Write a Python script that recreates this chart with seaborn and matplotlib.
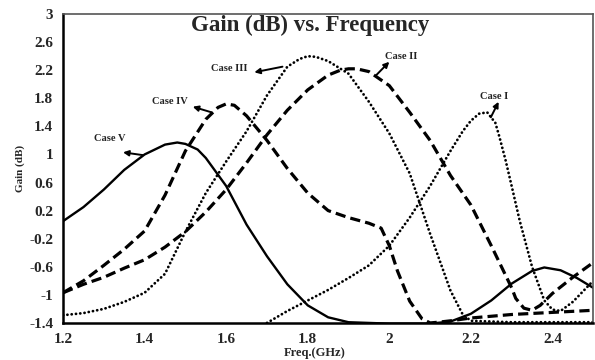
import matplotlib
matplotlib.use("Agg")
import matplotlib.pyplot as plt
import seaborn as sns

# ---- data ----
case1_f = [1.70, 1.75, 1.80, 1.85, 1.90, 1.95, 2.00, 2.05, 2.10, 2.15, 2.18, 2.20, 2.22, 2.24, 2.26, 2.27, 2.285, 2.30, 2.32, 2.35, 2.38, 2.40, 2.42, 2.45, 2.50]
case1_g = [-1.40, -1.23, -1.08, -0.93, -0.76, -0.58, -0.30, 0.10, 0.55, 1.05, 1.33, 1.48, 1.58, 1.60, 1.45, 1.25, 0.92, 0.55, 0.05, -0.60, -1.08, -1.21, -1.23, -1.10, -0.80]

case2_f = [1.20, 1.25, 1.30, 1.35, 1.40, 1.45, 1.50, 1.55, 1.60, 1.65, 1.70, 1.75, 1.80, 1.85, 1.88, 1.90, 1.92, 1.95, 2.00, 2.05, 2.10, 2.15, 2.20, 2.25, 2.30, 2.31, 2.33, 2.35, 2.37, 2.40, 2.45, 2.50]
case2_g = [-0.97, -0.85, -0.75, -0.62, -0.50, -0.32, -0.10, 0.18, 0.50, 0.88, 1.28, 1.63, 1.92, 2.13, 2.20, 2.22, 2.22, 2.18, 1.98, 1.60, 1.20, 0.70, 0.28, -0.30, -0.90, -1.05, -1.19, -1.22, -1.15, -0.98, -0.75, -0.54]

case3_f = [1.20, 1.25, 1.30, 1.35, 1.40, 1.45, 1.50, 1.55, 1.60, 1.65, 1.70, 1.75, 1.78, 1.80, 1.82, 1.85, 1.90, 1.95, 2.00, 2.05, 2.10, 2.15, 2.18, 2.20, 2.30, 2.40, 2.50]
case3_g = [-1.29, -1.26, -1.20, -1.10, -0.97, -0.70, -0.10, 0.45, 0.90, 1.33, 1.84, 2.25, 2.36, 2.40, 2.39, 2.33, 2.15, 1.75, 1.30, 0.73, -0.13, -0.94, -1.28, -1.37, -1.39, -1.39, -1.39]

case4_f = [1.20, 1.25, 1.30, 1.35, 1.40, 1.45, 1.50, 1.55, 1.58, 1.60, 1.62, 1.65, 1.70, 1.75, 1.80, 1.85, 1.90, 1.95, 1.98, 2.00, 2.02, 2.05, 2.08, 2.10, 2.12, 2.15, 2.20, 2.30, 2.40, 2.50]
case4_g = [-0.97, -0.80, -0.58, -0.35, -0.09, 0.42, 1.05, 1.50, 1.67, 1.72, 1.70, 1.55, 1.20, 0.80, 0.45, 0.20, 0.10, 0.02, -0.05, -0.30, -0.66, -1.09, -1.34, -1.40, -1.39, -1.37, -1.33, -1.28, -1.25, -1.22]

case5_f = [1.20, 1.25, 1.30, 1.35, 1.40, 1.45, 1.48, 1.50, 1.53, 1.55, 1.60, 1.65, 1.70, 1.75, 1.80, 1.85, 1.90, 2.00, 2.10, 2.15, 2.20, 2.25, 2.30, 2.35, 2.38, 2.42, 2.46, 2.50]
case5_g = [0.05, 0.25, 0.50, 0.78, 1.00, 1.14, 1.17, 1.15, 1.07, 0.95, 0.55, 0.00, -0.45, -0.85, -1.15, -1.32, -1.39, -1.41, -1.41, -1.38, -1.27, -1.08, -0.84, -0.66, -0.61, -0.65, -0.76, -0.90]

labels = ["Case I", "Case II", "Case III", "Case IV", "Case V"]
label_xy = [(2.256, 1.82), (2.029, 2.39), (1.608, 2.22), (1.462, 1.75), (1.315, 1.23)]
arrow_tail = [(2.249, 1.53), (1.968, 2.13), (1.738, 2.25), (1.564, 1.60), (1.396, 0.99)]
arrow_head = [(2.268, 1.75), (2.000, 2.32), (1.669, 2.17), (1.518, 1.68), (1.347, 1.03)]

xticks = [1.2, 1.4, 1.6, 1.8, 2.0, 2.2, 2.4]
xticklabels = ["1.2", "1.4", "1.6", "1.8", "2", "2.2", "2.4"]
yticks = [-1.4, -1.0, -0.6, -0.2, 0.2, 0.6, 1.0, 1.4, 1.8, 2.2, 2.6, 3.0]
yticklabels = ["-1.4", "-1", "-0.6", "-0.2", "0.2", "0.6", "1", "1.4", "1.8", "2.2", "2.6", "3"]

title = "Gain (dB) vs. Frequency"
xlabel = "Freq.(GHz)"
ylabel = "Gain (dB)"

# ---- plotting ----
sns.set_style("white")
plt.rcParams["font.family"] = ["Liberation Serif", "DejaVu Serif"]

fig = plt.figure(figsize=(5.95, 3.6), dpi=100)
ax = fig.add_axes([0.106, 0.103, 0.891, 0.858])

dash_style = (3.2, 1.6)
dot_style = (0.05, 1.5)

def draw(f, g, kind):
    sns.lineplot(x=f, y=g, ax=ax, color="black", sort=False,
                 lw=2.3 if kind == "dash" else (2.0 if kind == "dot" else 1.7))
    ln = ax.lines[-1]
    if kind == "dash":
        ln.set_dashes(dash_style)
        ln.set_dash_capstyle("butt")
    elif kind == "dot":
        ln.set_dashes(dot_style)
        ln.set_dash_capstyle("round")

draw(case1_f, case1_g, "dot")
draw(case2_f, case2_g, "dash")
draw(case3_f, case3_g, "dot")
draw(case4_f, case4_g, "dash")
draw(case5_f, case5_g, "solid")

for lab, txy, tail, head in zip(labels, label_xy, arrow_tail, arrow_head):
    ax.annotate("", xy=head, xytext=tail,
                arrowprops=dict(arrowstyle="-|>", color="black", lw=1.4,
                                mutation_scale=8, shrinkA=0, shrinkB=0))
    ax.text(txy[0], txy[1], lab, fontsize=7.5, fontweight="bold",
            ha="center", va="center", color="#222222")

ax.text(0.466, 0.963, title, transform=ax.transAxes, fontsize=16.5,
        fontweight="bold", ha="center", va="center")

ax.set_xlim(1.2, 2.5)
ax.set_ylim(-1.4, 3.0)
ax.set_xticks(xticks)
ax.set_xticklabels(xticklabels, fontsize=11, fontweight="bold")
ax.set_yticks(yticks)
ax.set_yticklabels(yticklabels, fontsize=11, fontweight="bold")
ax.tick_params(axis="both", direction="out", length=4, width=1.2, color="black", pad=3)
ax.tick_params(axis="x", pad=3)

ax.set_xlabel(xlabel, fontsize=9, fontweight="bold", va="center")
ax.xaxis.set_label_coords(0.475, -0.097)
ax.set_ylabel(ylabel, fontsize=8, fontweight="bold", labelpad=3)

for s in ["left", "bottom"]:
    ax.spines[s].set_color("black")
    ax.spines[s].set_linewidth(1.8)
for s in ["top", "right"]:
    ax.spines[s].set_color("#555555")
    ax.spines[s].set_linewidth(1.2)

fig.savefig("out.png", dpi=100)
